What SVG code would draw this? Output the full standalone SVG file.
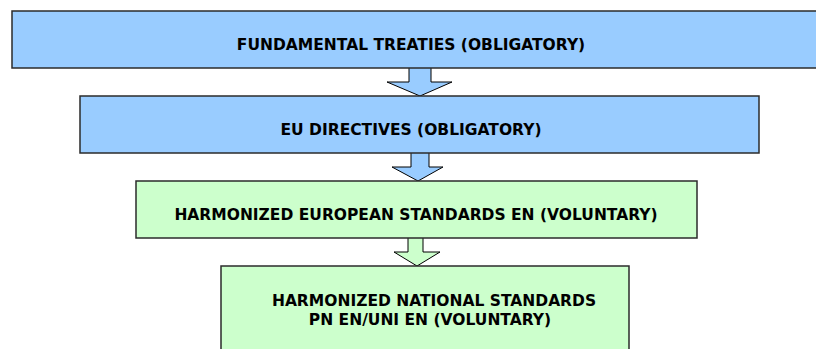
<svg xmlns="http://www.w3.org/2000/svg" width="816" height="349" viewBox="0 0 816 349">
<style>
.box{stroke:#2b2b2b;stroke-width:1.5}
.blue{fill:#99ccff}
.green{fill:#ccffcc}
.arr{stroke:#000;stroke-width:1}
text{font-family:"DejaVu Sans",Verdana,sans-serif;font-weight:bold;font-size:15.5px;fill:#000;text-anchor:middle}
</style>
<rect width="816" height="349" fill="#fff"/>
<g id="connectors">
<polygon class="arr blue" points="409,67 431,67 431,82 452,82 420,96 387,82 409,82"/>
<polygon class="arr blue" points="411,152 429,152 429,167 443,167 418,181 392,167 411,167"/>
<polygon class="arr green" points="408,237 423,237 423,252 440,252 417,266 394,252 408,252"/>
</g>
<g id="n1">
<rect class="box blue" x="12" y="11" width="810" height="57"/>
<text x="411" y="50">FUNDAMENTAL TREATIES (OBLIGATORY)</text>
</g>
<g id="n2">
<rect class="box blue" x="80" y="96" width="679" height="57"/>
<text x="411" y="135">EU DIRECTIVES (OBLIGATORY)</text>
</g>
<g id="n3">
<rect class="box green" x="136" y="181" width="561" height="57"/>
<text x="416" y="220">HARMONIZED EUROPEAN STANDARDS EN (VOLUNTARY)</text>
</g>
<g id="n4">
<rect class="box green" x="221" y="266" width="408" height="100"/>
<text x="434" y="306">HARMONIZED NATIONAL STANDARDS</text>
<text x="430" y="325">PN EN/UNI EN (VOLUNTARY)</text>
</g>
</svg>
